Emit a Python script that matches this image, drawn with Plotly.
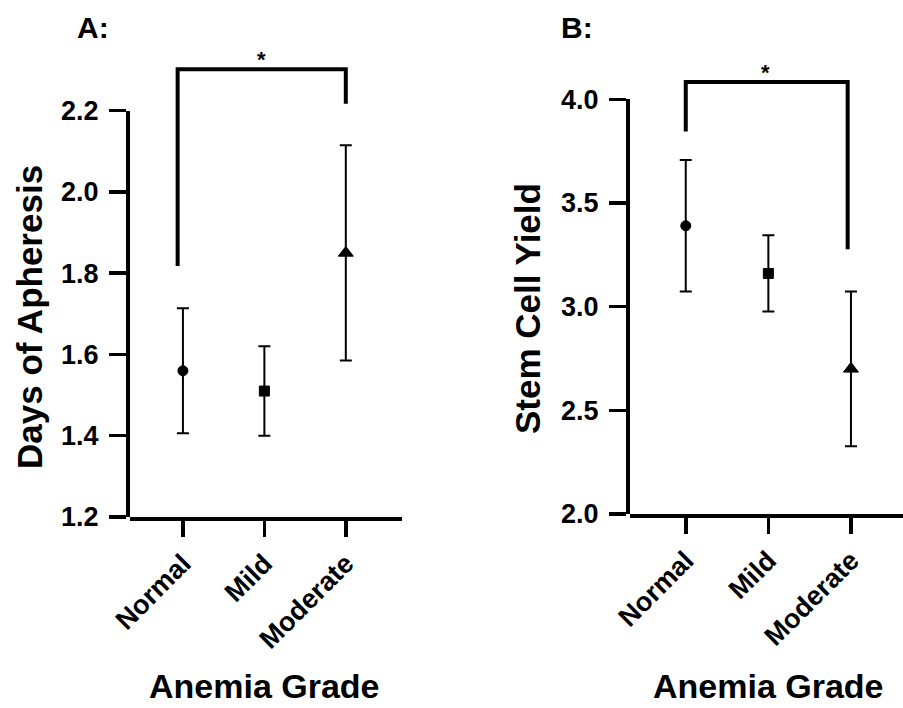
import plotly.graph_objects as go

# ---------------- data ----------------
categories = ["Normal", "Mild", "Moderate"]
symbols = ["circle", "square", "triangle-up"]

days_mean = [1.56, 1.51, 1.85]
days_err = [0.154, 0.11, 0.265]

yield_mean = [3.39, 3.16, 2.70]
yield_err = [0.317, 0.184, 0.373]

daysTicks = [1.2, 1.4, 1.6, 1.8, 2.0, 2.2]
yieldTicks = [2.0, 2.5, 3.0, 3.5, 4.0]

# significance brackets (value levels)
bracketA = dict(x0=-0.065, x1=2.0, left_low=1.818, top=2.302, right_low=2.217)
bracketB = dict(x0=0.0, x1=1.96, left_low=3.845, top=4.083, right_low=3.277)

# ---------------- layout geometry ----------------
W, H = 903, 708
FONT = "Arial, Liberation Sans, sans-serif"


def ydom(px_bottom, px_top):
    return [(H - px_bottom) / H, (H - px_top) / H]


# Panel A: 1.2 at y=517px, 2.2 at y=110.7px
A_bot, A_top = 517.0, 110.7
A_lo, A_hi, A_ext = 1.2, 2.2, 2.34
A_ppu = (A_bot - A_top) / (A_hi - A_lo)
A_ext_px = A_bot - (A_ext - A_lo) * A_ppu

# Panel B: 2.0 at y=514px, 4.0 at y=99.3px
B_bot, B_top = 514.0, 99.3
B_lo, B_hi, B_ext = 2.0, 4.0, 4.16
B_ppu = (B_bot - B_top) / (B_hi - B_lo)
B_ext_px = B_bot - (B_ext - B_lo) * B_ppu

fig = go.Figure()

err_style = dict(type="data", color="black", thickness=2, width=6)
msize = [10, 10, 13]

fig.add_trace(go.Scatter(
    x=categories, y=days_mean, mode="markers",
    marker=dict(symbol=symbols, size=msize, color="black", opacity=1,
                line=dict(width=1, color="black")),
    error_y=dict(array=days_err, **err_style),
    xaxis="x", yaxis="y", showlegend=False, hoverinfo="skip",
))
fig.add_trace(go.Scatter(
    x=categories, y=yield_mean, mode="markers",
    marker=dict(symbol=symbols, size=msize, color="black", opacity=1,
                line=dict(width=1, color="black")),
    error_y=dict(array=yield_err, **err_style),
    xaxis="x2", yaxis="y2", showlegend=False, hoverinfo="skip",
))
# empty helper traces so the visible value axes get drawn
fig.add_trace(go.Scatter(x=[categories[0]], y=[None], mode="markers",
                         xaxis="x", yaxis="y3", showlegend=False, hoverinfo="skip"))
fig.add_trace(go.Scatter(x=[categories[0]], y=[None], mode="markers",
                         xaxis="x2", yaxis="y4", showlegend=False, hoverinfo="skip"))


def bracket_path(b):
    return (f"M {b['x0']},{b['left_low']} L {b['x0']},{b['top']} "
            f"L {b['x1']},{b['top']} L {b['x1']},{b['right_low']}")


fig.add_shape(type="path", path=bracket_path(bracketA), xref="x", yref="y",
              line=dict(color="black", width=4))
fig.add_shape(type="path", path=bracket_path(bracketB), xref="x2", yref="y2",
              line=dict(color="black", width=4))

tickfont = dict(family=FONT, size=27, color="black", weight="bold")

common_x = dict(type="category", showline=True, linewidth=4, linecolor="black",
                ticks="outside", ticklen=16, tickwidth=3.5, tickcolor="black",
                tickangle=-45, tickfont=tickfont, showgrid=False, zeroline=False,
                fixedrange=True, automargin=False)

common_y = dict(showline=True, linewidth=4, linecolor="black",
                ticks="outside", ticklen=17, tickwidth=3.5, tickcolor="black",
                tickformat=".1f", tickfont=tickfont, showgrid=False, zeroline=False,
                fixedrange=True, automargin=False, ticklabelstandoff=5)

fig.update_layout(
    template="none",
    width=W, height=H,
    margin=dict(l=0, r=0, t=0, b=0, pad=0),
    paper_bgcolor="white", plot_bgcolor="rgba(0,0,0,0)",
    font=dict(family=FONT, color="black"),
    showlegend=False,
    xaxis=dict(domain=[130 / W, 402 / W], anchor="y", range=[-0.65, 2.69], **common_x),
    xaxis2=dict(domain=[630 / W, 1.0], anchor="y2", range=[-0.675, 2.63], **common_x),
    # invisible data axes (taller, to hold the brackets)
    yaxis=dict(domain=ydom(A_bot, A_ext_px), anchor="x", range=[A_lo, A_ext], visible=False),
    yaxis2=dict(domain=ydom(B_bot, B_ext_px), anchor="x2", range=[B_lo, B_ext], visible=False),
    # visible value axes
    yaxis3=dict(domain=ydom(A_bot, A_top), anchor="x", range=[A_lo, A_hi],
                tickvals=daysTicks, **common_y),
    yaxis4=dict(domain=ydom(B_bot, B_top), anchor="x2", range=[B_lo, B_hi],
                tickvals=yieldTicks, **common_y),
)

ytitle_font = dict(family=FONT, size=35, color="black", weight="bold")
xtitle_font = dict(family=FONT, size=34, color="black", weight="bold")
panel_font = dict(family=FONT, size=30, color="black", weight="bold")


def pann(text, px, py, font, angle=0, yanchor="middle"):
    return dict(text=text, x=px / W, y=(H - py) / H, xref="paper", yref="paper",
                xanchor="center", yanchor=yanchor, textangle=angle,
                showarrow=False, font=font)


ann = [
    pann("A:", 93, 28, panel_font),
    pann("B:", 577, 28, panel_font),
    pann("Days of Apheresis", 30, 317, ytitle_font, -90),
    pann("Stem Cell Yield", 528, 309, ytitle_font, -90),
    pann("Anemia Grade", 264, 707, xtitle_font, yanchor="bottom"),
    pann("Anemia Grade", 768, 707, xtitle_font, yanchor="bottom"),
]
star_font = dict(family=FONT, size=22, color="black", weight="bold")
ann.append(dict(text="*", x=0.966, y=bracketA["top"], xref="x", yref="y",
                xanchor="center", yanchor="bottom", yshift=-5, showarrow=False, font=star_font))
ann.append(dict(text="*", x=0.97, y=bracketB["top"], xref="x2", yref="y2",
                xanchor="center", yanchor="bottom", yshift=-5, showarrow=False, font=star_font))
fig.update_layout(annotations=ann)

fig.write_html(
    "out.html",
    config={"displayModeBar": False, "staticPlot": True},
    post_script="document.body.style.margin='0';document.body.style.padding='0';"
                "document.body.style.overflow='hidden';",
)
